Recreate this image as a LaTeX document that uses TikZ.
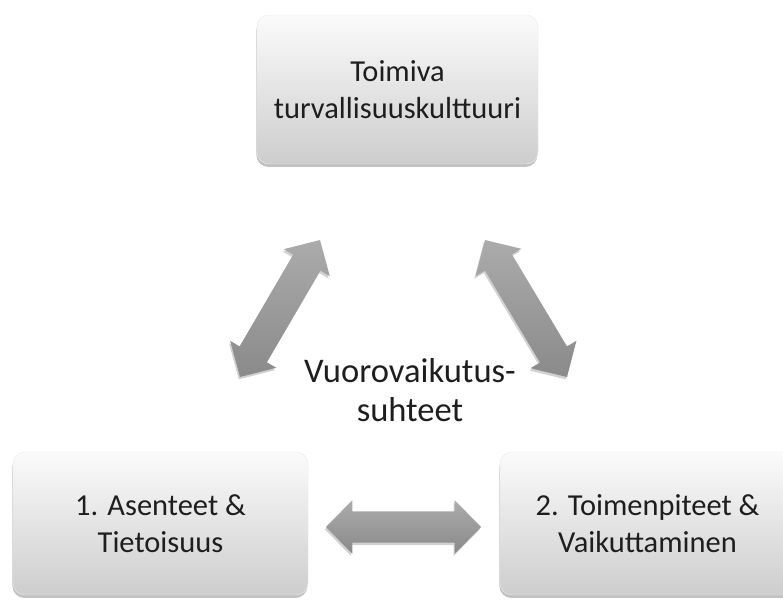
\documentclass[tikz,border=0pt]{standalone}
\usepackage{fontspec}
\setmainfont{Carlito}
\usetikzlibrary{shapes.arrows,shadows,shadings}

\definecolor{boxtop}{HTML}{FBFBFB}
\definecolor{boxbot}{HTML}{CDCDCD}
\definecolor{arrtop}{HTML}{ABABAB}
\definecolor{arrbot}{HTML}{8A8A8A}
\definecolor{ink}{HTML}{1E1E1E}

\tikzset{
  box/.style={rectangle, rounded corners=0.36cm, inner sep=0pt,
    top color=boxtop, bottom color=boxbot, draw=white!92!black, line width=0.4pt,
    drop shadow={shadow xshift=-0.5pt, shadow yshift=-2.5pt, opacity=0.35, fill=black!70},
    align=center, text=ink, font=\fontsize{26}{32}\selectfont},
  biarrow/.style={double arrow, inner xsep=0pt, inner ysep=0.465cm,
    text height=0pt, text depth=0pt,
    double arrow head extend=0.33cm, double arrow tip angle=91,
    top color=arrtop, bottom color=arrbot, draw=none,
    drop shadow={shadow xshift=-1pt, shadow yshift=-2pt, opacity=0.3, fill=black!60}}
}

\begin{document}
\begin{tikzpicture}[x=0.03cm, y=-0.03cm]
        % Setup the canvas
        \useasboundingbox (0,0) rectangle (783,605);
        \clip (0,0) rectangle (783,605);

        % Boxes
        \node[box, minimum width=8.43cm, minimum height=4.47cm] (goal) at (397.5,89.5)
            {Toimiva\\turvallisuuskulttuuri};
        \node[box, minimum width=8.85cm, minimum height=4.29cm] (attitude) at (160.5,523.5)
            {1. Asenteet \&\\Tietoisuus};
        \node[box, minimum width=8.85cm, minimum height=4.29cm] (action) at (647.5,523.5)
            {2. Toimenpiteet \&\\Vaikuttaminen};

        % Interaction arrows
        \node[biarrow, minimum height=4.76cm, rotate=59.7] (arLeft) at (280,308.5) {};
        \node[biarrow, minimum height=4.79cm, rotate=-59.1] (arRight) at (526,308.5) {};
        \node[biarrow, minimum height=4.65cm] (arBottom) at (403.5,527) {};

        % Centre label
        \node[align=center, text=ink, font=\fontsize{29.5}{33}\selectfont] (talk) at (410,390)
            {Vuorovaikutus-\\suhteet};

    \end{tikzpicture}
\end{document}
